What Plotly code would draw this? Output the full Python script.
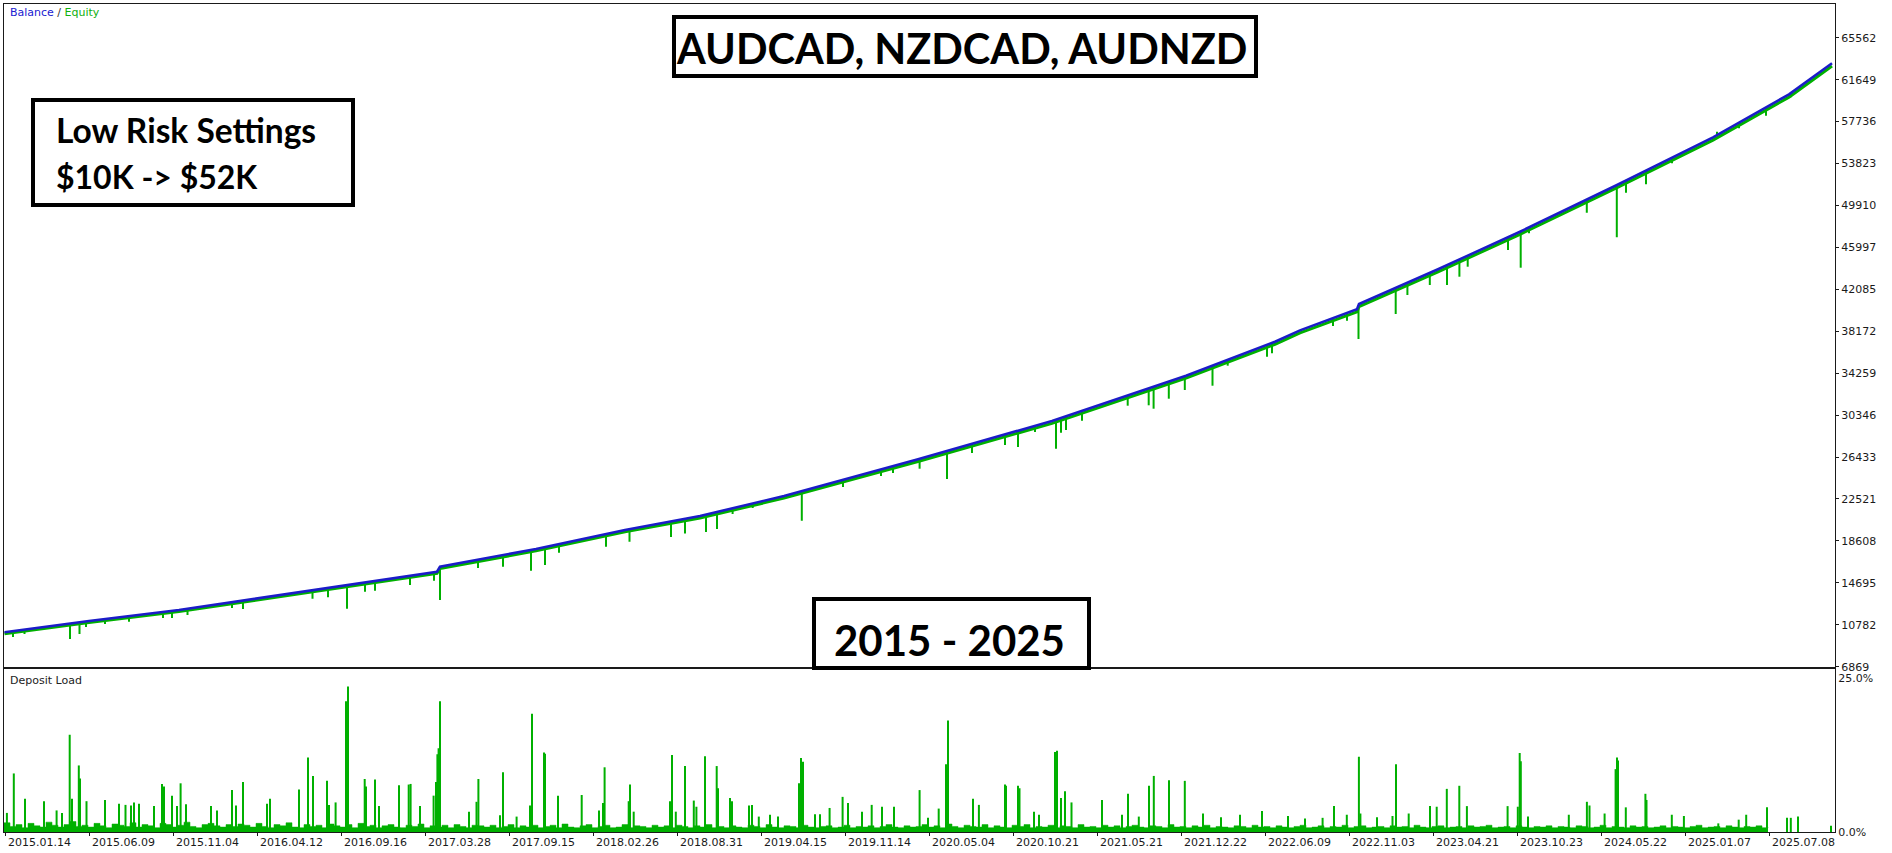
import numpy as np
import plotly.graph_objects as go

# ---------------- data ----------------
TICK_LABELS = ["2015.01.14", "2015.06.09", "2015.11.04", "2016.04.12", "2016.09.16", "2017.03.28",
               "2017.09.15", "2018.02.26", "2018.08.31", "2019.04.15", "2019.11.14", "2020.05.04",
               "2020.10.21", "2021.05.21", "2021.12.22", "2022.06.09", "2022.11.03", "2023.04.21",
               "2023.10.23", "2024.05.22", "2025.01.07", "2025.07.08"]
Y_TICKS = [6869, 10782, 14695, 18608, 22521, 26433, 30346, 34259, 38172, 42085, 45997,
           49910, 53823, 57736, 61649, 65562]

# balance curve (horizontal position = deal index on the tester chart)
BAL_X = [4.5, 89, 179, 268, 357, 437, 440, 536, 625, 700, 784, 918, 1052, 1186, 1275, 1300,
         1357, 1359, 1438, 1520, 1617, 1713, 1789, 1832]
BAL_Y = [10079, 11134, 12160, 13400, 14587, 15735, 16200, 17853, 19626, 20930, 22800, 26224,
         29798, 34025, 37197, 38260, 40220, 40715, 43955, 47463, 51821, 56272, 60284, 63178]
# equity running just below the balance
EQ_Y = [9950, 11000, 12020, 13250, 14430, 15570, 16040, 17680, 19450, 20750, 22600, 26020,
        29580, 33800, 36960, 38020, 39980, 40480, 43720, 47220, 51570, 56010, 60020, 62930]

# equity dips: position and lowest equity
DIP_X = [13, 24.5, 70, 79.5, 86, 105, 129, 163, 172, 187.5, 232, 243, 312.5, 328, 347, 365, 375,
         410, 434, 440, 478, 503, 531, 545, 559, 606, 629.5, 671, 685, 706, 717, 732.6, 752.7,
         801.8, 843, 881, 893, 919.6, 947, 972, 1005, 1018, 1035, 1056, 1061, 1066, 1082,
         1127.7, 1148.7, 1153.6, 1168.8, 1184.8, 1212.5, 1227.7, 1267, 1272, 1333, 1347,
         1358.5, 1395.7, 1407.4, 1429.8, 1447, 1459.4, 1467.7, 1508, 1520.7, 1529, 1586.8,
         1616.8, 1626, 1646, 1672, 1717, 1739, 1766, 1790.7, 1800]
DIP_LOW = [9640, 9920, 9454, 9920, 10573, 10853, 11066, 11414, 11414, 11694, 12347, 12254, 13215,
           13345, 12281, 13868, 13961, 14493, 14894, 13093, 16080, 16201, 15828, 16359, 17507,
           18067, 18534, 18973, 19300, 19438, 19718, 21118, 21678, 20494, 23638, 24665, 24945,
           25346, 24385, 26811, 27558, 27371, 28771, 27213, 28706, 28958, 29826, 31226, 31263,
           30946, 31879, 32691, 33092, 34959, 35799, 36116, 38663, 39158, 37450, 39783, 41556,
           42489, 42489, 43264, 44197, 45755, 44104, 47313, 49237, 46940, 51102, 51886, 53846,
           56795, 57113, 58288, 60005, 60845]

# deposit load spikes (%)
DL_X = [6.9, 13.8, 25, 44, 56.6, 62, 69.7, 72, 78.8, 80, 86.5, 105, 119, 125.5, 131, 134, 139,
        154, 162, 164, 172, 177, 180.6, 186, 211, 217, 232, 236, 243, 267, 270, 299, 308, 313,
        327, 329, 335.6, 346, 348, 364.7, 366, 375, 379, 399, 408.7, 410.6, 420, 433.6, 436,
        437.4, 438.6, 440, 469, 476.5, 478.4, 500, 503, 516.6, 530, 532, 544, 545, 558, 581.7,
        599, 603, 604.6, 628.7, 630, 633.7, 670, 672, 675.8, 685, 693.8, 696.4, 705, 716.7, 718,
        730, 732, 749, 752, 758.8, 770, 778, 799, 801, 803, 815, 820, 829.6, 842.6, 848, 862,
        871.7, 882, 894, 919.6, 928, 938.7, 946, 948, 973, 978.9, 1005, 1006, 1018, 1019.5,
        1034, 1039, 1055, 1057, 1061, 1065, 1071.5, 1102, 1122, 1128, 1138.8, 1149, 1153.8,
        1169, 1184.8, 1203, 1221, 1240, 1262, 1288, 1305, 1322.6, 1334, 1346.8, 1358.9, 1360.4,
        1377, 1392.5, 1396, 1408.7, 1430, 1436.7, 1446.8, 1459.3, 1466.9, 1507.6, 1517.8,
        1519.7, 1520.8, 1528, 1568.8, 1586.9, 1589.5, 1604.6, 1615.6, 1617, 1618, 1625.8,
        1645.4, 1646.5, 1671.8, 1683.9, 1718.3, 1738.7, 1746.2, 1767, 1787, 1790.8, 1798, 1831]
DL_Y = [3.1, 9.5, 5.4, 5.0, 3.5, 3.1, 15.8, 5.4, 10.8, 8.7, 5.0, 5.2, 4.6, 4.4, 4.3, 4.8, 4.6,
        4.2, 7.8, 7.4, 5.9, 4.2, 7.9, 4.5, 4.2, 3.5, 6.8, 4.3, 8.1, 4.6, 5.4, 6.9, 12.1, 9.1,
        8.3, 4.4, 4.8, 21.2, 23.6, 8.6, 7.4, 8.5, 4.2, 7.6, 7.7, 7.8, 4.2, 5.9, 8.1, 12.6,
        13.6, 21.2, 3.3, 4.9, 8.6, 2.7, 9.7, 2.5, 4.3, 19.2, 12.9, 12.7, 5.9, 6.0, 3.5, 4.7,
        10.5, 5.0, 7.7, 3.3, 5.0, 12.5, 3.3, 10.7, 5.1, 4.1, 12.3, 10.7, 7.1, 5.5, 5.0, 4.3,
        4.4, 2.5, 2.8, 2.5, 7.9, 12.0, 11.4, 2.9, 2.9, 3.9, 5.7, 4.7, 3.3, 4.4, 4.1, 4.1, 6.8,
        2.3, 3.8, 11.0, 18.1, 5.4, 4.4, 7.7, 7.5, 7.5, 7.1, 3.3, 2.8, 13.0, 13.2, 5.5, 6.6,
        4.8, 5.2, 2.8, 6.2, 2.5, 7.5, 9.1, 8.4, 8.3, 3.0, 2.4, 2.8, 3.4, 2.6, 2.2, 2.3, 4.2,
        2.8, 12.2, 3.0, 2.4, 2.6, 11.0, 3.0, 4.2, 4.1, 7.0, 7.5, 4.2, 4.2, 4.1, 12.8, 11.5, 2.5,
        2.8, 4.9, 4.3, 3.0, 10.2, 12.1, 11.6, 4.0, 6.2, 5.2, 2.8, 2.6, 1.4, 2.0, 2.8, 4.0, 2.3,
        2.3, 2.5, 1.0]

# deposit load background level (%), one reading every 6 deals
DL_BASE = [1.5, 0.9, 1.2, 0.7, 1.4, 1.0, 0.8, 1.6, 1.1, 0.8, 1.2, 1.7, 0.9, 1.1, 0.8, 1.4, 1.0, 0.7,
           1.3, 1.1, 0.9, 1.5, 0.8, 1.2, 1.0, 0.7, 1.4, 1.2, 0.8, 1.1, 1.6, 0.9, 0.7, 1.2, 1.4, 1.0,
           0.8, 1.2, 0.9, 1.3, 1.1, 0.8, 1.4, 0.9, 0.7, 1.2, 1.0, 1.5, 0.8, 0.7, 1.2, 0.9, 1.1, 0.7,
           1.3, 1.0, 0.8, 1.2, 0.7, 1.4, 0.9, 1.1, 0.7, 1.0, 1.2, 0.8, 0.7, 1.1, 0.9, 1.3, 0.7, 1.0,
           0.8, 1.1, 0.7, 1.2, 0.9, 0.7, 1.1, 1.0, 0.8, 1.1, 0.7, 0.9, 1.2, 0.7, 1.0, 0.8, 1.1, 0.7,
           0.9, 1.1, 0.7, 1.3, 0.8, 0.7, 1.0, 1.2, 0.7, 0.9, 1.1, 0.7, 0.8, 1.2, 0.7, 1.0, 0.9, 0.7,
           1.1, 0.8, 1.0, 0.7, 1.1, 0.9, 0.7, 1.0, 0.8, 1.2, 0.7, 0.9, 0.7, 1.0, 0.8, 0.7, 1.1, 0.9,
           0.7, 1.2, 0.8, 0.7, 1.0, 0.9, 0.7, 1.1, 0.8, 0.7, 0.9, 1.0, 0.7, 0.8, 1.1, 0.7, 0.9, 0.8,
           1.0, 0.7, 0.9, 1.2, 0.8, 0.7, 1.0, 0.8, 0.9, 1.2, 0.8, 1.0, 0.7, 1.3, 0.9, 0.7, 1.1, 0.9,
           0.8, 1.2, 0.7, 1.0, 0.8, 0.7, 1.1, 0.9, 1.2, 0.7, 0.9, 0.8, 1.1, 0.7, 1.0, 0.9, 0.7, 1.2,
           0.8, 0.9, 0.7, 1.1, 0.8, 1.0, 0.7, 0.9, 1.1, 0.8, 0.7, 1.0, 0.9, 0.7, 1.2, 0.8, 0.9, 0.7,
           1.0, 0.8, 1.1, 0.7, 0.9, 0.8, 0.7, 1.0, 0.9, 0.7, 1.1, 0.8, 0.9, 0.7, 1.0, 0.8, 0.7, 0.9,
           1.1, 0.7, 0.8, 1.0, 0.7, 0.9, 0.8, 1.1, 0.7, 0.9, 1.0, 0.7, 0.8, 0.9, 0.7, 1.0, 0.8, 0.9,
           0.7, 1.1, 0.8, 0.7, 0.9, 1.0, 0.7, 0.8, 0.9, 0.7, 1.0, 0.8, 0.9, 1.1, 0.7, 0.8, 0.9, 0.7,
           1.0, 0.8, 0.7, 0.9, 0.8, 1.0, 0.7, 0.9, 0.8, 0.7, 1.0, 0.9, 0.7, 0.8, 1.1, 0.7, 0.9, 0.8,
           0.7, 1.0, 0.8, 0.9, 0.7, 0.8, 1.0, 0.7, 0.9, 0.8, 0.7, 0.9, 1.1, 0.7, 0.8, 0.9, 0.7, 1.0,
           0.8, 0.7, 0.9, 0.8, 1.0, 0.7, 0.8]
DL_BASE_X = [4 + 6 * i for i in range(len(DL_BASE))]

# ---------------- layout helpers (pixel geometry) ----------------
W, H = 1892, 853
L, R, T, B = 4, 1835, 4, 832          # plotting area in page pixels
def px(x):
    return (x - L) / (R - L)
def py(y):
    return (B - y) / (B - T)

MAIN_BOTTOM = 666.7
LOW_TOP = 669.3

GREEN = "#00b000"
BLUE = "#1c1cc8"
AX = "#1a1a1a"

fig = go.Figure()

# equity line just under the balance
fig.add_trace(go.Scatter(x=BAL_X, y=EQ_Y, mode="lines", line=dict(color=GREEN, width=3),
                         hoverinfo="skip", showlegend=False, xaxis="x", yaxis="y"))
# equity dips
tops = np.interp(DIP_X, BAL_X, BAL_Y)
dx, dy = [], []
for x, lo, tp in zip(DIP_X, DIP_LOW, tops):
    dx += [x, x, None]
    dy += [lo, tp, None]
fig.add_trace(go.Scatter(x=dx, y=dy, mode="lines", line=dict(color=GREEN, width=2),
                         hoverinfo="skip", showlegend=False, xaxis="x", yaxis="y"))
# balance
fig.add_trace(go.Scatter(x=BAL_X, y=BAL_Y, mode="lines", line=dict(color=BLUE, width=2.6),
                         hoverinfo="skip", showlegend=False, xaxis="x", yaxis="y"))

# deposit load background
fig.add_trace(go.Scatter(x=DL_BASE_X, y=DL_BASE, mode="lines", line=dict(color=GREEN, width=0.5, shape="hv"),
                         fill="tozeroy", fillcolor=GREEN, hoverinfo="skip", showlegend=False,
                         xaxis="x2", yaxis="y2"))
sx, sy = [], []
for x, v in zip(DL_X, DL_Y):
    sx += [x, x, None]
    sy += [0, v, None]
fig.add_trace(go.Scatter(x=sx, y=sy, mode="lines", line=dict(color=GREEN, width=2),
                         hoverinfo="skip", showlegend=False, xaxis="x2", yaxis="y2"))

tickvals = [5 + 84 * i for i in range(len(TICK_LABELS))]

common_x = dict(range=[L, R], showgrid=False, zeroline=False, showline=True, mirror=True,
                linecolor=AX, linewidth=1, fixedrange=True)
fig.update_layout(
    width=W, height=H,
    margin=dict(l=L, r=W - R, t=T, b=H - B),
    paper_bgcolor="white", plot_bgcolor="white",
    font=dict(family="DejaVu Sans", size=11, color=AX),
    xaxis=dict(**common_x, anchor="y", showticklabels=False, ticks=""),
    yaxis=dict(domain=[py(MAIN_BOTTOM), 1], range=[6869, 6869 + (MAIN_BOTTOM - T) * 3913 / 41.93],
               side="right", tickvals=Y_TICKS, ticktext=[str(v) for v in Y_TICKS],
               ticks="outside", ticklen=3, tickcolor=AX, showgrid=False, zeroline=False,
               showline=True, mirror=True, linecolor=AX, linewidth=1, anchor="x",
               tickfont=dict(family="DejaVu Sans", size=11, color=AX)),
    xaxis2=dict(**common_x, anchor="y2", tickvals=tickvals, ticktext=[""] * len(tickvals),
                ticks="outside", ticklen=3, tickcolor=AX),
    yaxis2=dict(domain=[0, py(LOW_TOP)], range=[0, 26.4], side="right", tickvals=[0, 25],
                ticktext=["0.0%", "25.0%"], ticks="", showgrid=False, zeroline=False,
                showline=True, mirror=True, linecolor=AX, linewidth=1, anchor="x2",
                tickfont=dict(family="DejaVu Sans", size=11, color=AX)),
)

shapes = []
def box(x0, y0, x1, y1, w=4):
    h = w / 2
    shapes.append(dict(type="rect", xref="paper", yref="paper", x0=px(x0 + h), x1=px(x1 - h),
                       y0=py(y1 - h), y1=py(y0 + h), line=dict(color="black", width=w),
                       fillcolor="white", layer="above"))
box(672, 15, 1258, 78)
box(31, 98, 355, 207)
box(812, 597, 1091, 670)
fig.update_layout(shapes=shapes)

ann = []
def text(x, y, s, size, xanchor="left", family="Lato", color="black"):
    ann.append(dict(x=px(x), y=py(y), xref="paper", yref="paper", text=s, showarrow=False,
                    xanchor=xanchor, yanchor="middle", font=dict(family=family, size=size, color=color)))
text(8, 12, "<span style='color:#2020d0'>Balance</span> / <span style='color:#10b010'>Equity</span>",
     11, family="DejaVu Sans", color="#333")
text(8, 680, "Deposit Load", 11, family="DejaVu Sans", color="#222")
text(962, 48, "<b>AUDCAD, NZDCAD, AUDNZD</b>", 41.5, xanchor="center")
text(54, 130, "<b>Low Risk Settings</b>", 33.5)
text(54, 176, "<b>$10K -> $52K</b>", 32)
text(832, 640, "<b>2015 - 2025</b>", 42)
# date labels, left-aligned at their tick marks
for tv, lab in zip(tickvals, TICK_LABELS):
    ann.append(dict(x=tv + 1, y=py(842), xref="x2", yref="paper", text=lab, showarrow=False,
                    xanchor="left", yanchor="middle",
                    font=dict(family="DejaVu Sans", size=11, color=AX)))
fig.update_layout(annotations=ann)

fig.write_html("out.html", config={"displayModeBar": False, "staticPlot": True})
with open("out.html", encoding="utf-8") as f:
    html = f.read()
html = html.replace("<head>", "<head><style>html,body{margin:0;padding:0;overflow:hidden}</style>", 1)
with open("out.html", "w", encoding="utf-8") as f:
    f.write(html)
